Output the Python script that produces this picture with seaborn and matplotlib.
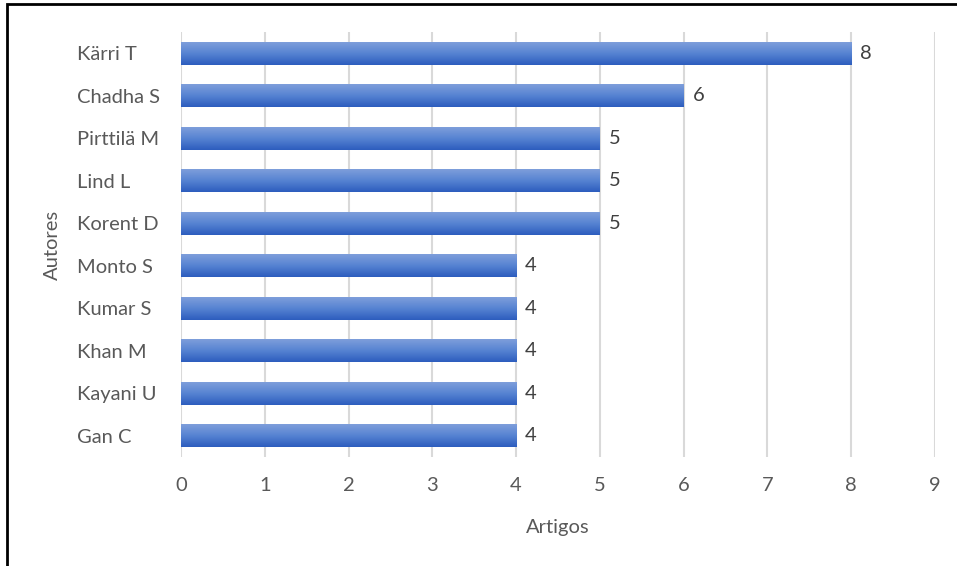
import numpy as np
import pandas as pd
import matplotlib
matplotlib.use("Agg")
import matplotlib.pyplot as plt
from matplotlib.colors import LinearSegmentedColormap
from matplotlib.patches import Rectangle
import seaborn as sns

autores = ["Kärri T", "Chadha S", "Pirttilä M", "Lind L", "Korent D",
           "Monto S", "Kumar S", "Khan M", "Kayani U", "Gan C"]
artigos = [8, 6, 5, 5, 5, 4, 4, 4, 4, 4]
x_ticks = [0, 1, 2, 3, 4, 5, 6, 7, 8, 9]

df = pd.DataFrame({"Autores": autores, "Artigos": artigos})

sns.set_theme(style="white")
plt.rcParams["font.family"] = ["Lato", "DejaVu Sans"]

W, H = 957, 566
PT = 72 / 100  # points per pixel at 100 dpi
FS = 14.5
fig = plt.figure(figsize=(W / 100, H / 100), dpi=100)
ax = fig.add_axes([181 / W, 1 - 457 / H, (935 - 181) / W, (457 - 32) / H])

sns.barplot(data=df, x="Artigos", y="Autores", orient="h", width=0.54,
            color="#4472C4", ax=ax, zorder=3)

# vertical gradient fill on each bar
grad = LinearSegmentedColormap.from_list(
    "barfill", ["#7E9EDB", "#5683D2", "#2D5DBE"])
gimg = np.linspace(0, 1, 64).reshape(-1, 1)
for p in ax.patches:
    x0, y0 = p.get_x(), p.get_y()
    w, h = p.get_width(), p.get_height()
    p.set_facecolor("none")
    p.set_edgecolor("none")
    im = ax.imshow(gimg, cmap=grad, aspect="auto", origin="upper",
                   extent=[x0, x0 + w, y0 + h, y0], zorder=3,
                   interpolation="bilinear")
    im.set_clip_path(p)

ax.set_xlim(0, 9)
ax.set_ylim(9.5, -0.5)
ax.set_xticks(x_ticks)
ax.xaxis.grid(True, color="#D9D9D9", linewidth=1.5, zorder=0)
ax.yaxis.grid(False)
for s in ax.spines.values():
    s.set_visible(False)
ax.tick_params(axis="both", length=0)
ax.tick_params(axis="x", pad=20 * PT, labelsize=FS, labelcolor="#595959")
ax.tick_params(axis="y", pad=104 * PT, labelsize=FS, labelcolor="#595959")
for lbl in ax.get_yticklabels():
    lbl.set_horizontalalignment("left")

for i, v in enumerate(artigos):
    ax.annotate(str(v), xy=(v, i), xytext=(9 * PT, 0), textcoords="offset points",
                va="center", ha="left", fontsize=FS, color="#404040")

ax.set_xlabel("Artigos", fontsize=FS, color="#595959")
ax.set_ylabel("Autores", fontsize=FS, color="#595959")
ax.yaxis.set_label_coords(-(181 - 61) / (935 - 181), 0.5)
ax.xaxis.set_label_coords(0.5, -(519 - 457) / (457 - 32))

# outer chart frame
fig.patches.append(Rectangle((7.5 / W, -0.1), 1.2, 1 - 4 / H + 0.1,
                             transform=fig.transFigure, fill=False,
                             edgecolor="black", linewidth=2))

fig.savefig("out.png", dpi=100)
